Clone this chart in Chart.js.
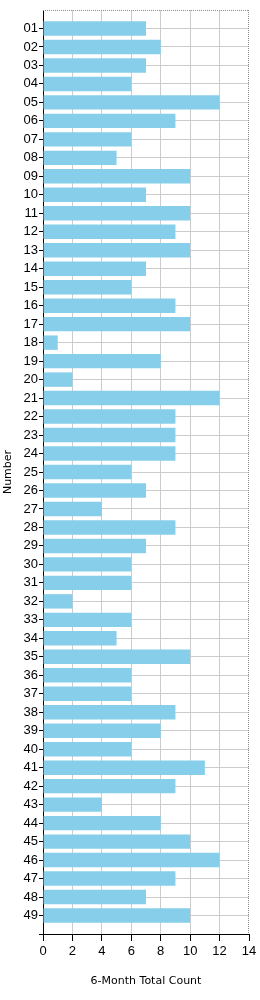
<!DOCTYPE html>
<html>
<head>
<meta charset="utf-8">
<script src="https://cdn.jsdelivr.net/npm/chart.js@4/dist/chart.umd.min.js"></script>
<style>
html,body{margin:0;padding:0;background:#fff;}
#wrap{position:relative;width:260px;height:1000px;}
</style>
</head>
<body>
<div id="wrap"><canvas id="c" width="260" height="1000"></canvas></div>
<script>
const categories = ['01','02','03','04','05','06','07','08','09','10',
  '11','12','13','14','15','16','17','18','19','20',
  '21','22','23','24','25','26','27','28','29','30',
  '31','32','33','34','35','36','37','38','39','40',
  '41','42','43','44','45','46','47','48','49'];
const counts = [7,8,7,6,12,9,6,5,10,7,
  10,9,10,7,6,9,10,1,8,2,
  12,9,9,9,6,7,4,9,7,6,
  6,2,6,5,10,6,6,9,8,6,
  11,9,4,8,10,12,9,7,10];
const xTicks = [0,2,4,6,8,10,12,14];
const xTitle = '6-Month Total Count';
const yTitle = 'Number';

// pad with empty slots at both ends so the axis spans one full category beyond the first/last bar
const labels = [''].concat(categories, ['']);
const values = [null].concat(counts, [null]);
const lastIdx = labels.length - 1;

const frame = {
  id: 'frame',
  afterDatasetsDraw(chart) {
    const {ctx, chartArea: a} = chart;
    ctx.save();
    ctx.strokeStyle = '#8c8c8c';
    ctx.lineWidth = 1;
    ctx.setLineDash([1, 1]);
    ctx.beginPath();
    ctx.moveTo(a.left, a.top + 0.5);
    ctx.lineTo(a.right, a.top + 0.5);
    ctx.moveTo(a.right - 0.5, a.top);
    ctx.lineTo(a.right - 0.5, a.bottom);
    ctx.stroke();
    ctx.restore();
  }
};

new Chart(document.getElementById('c'), {
  type: 'bar',
  data: {
    labels: labels,
    datasets: [{
      data: values,
      backgroundColor: '#87CEEB',
      borderWidth: 0,
      categoryPercentage: 1,
      barPercentage: 0.78
    }]
  },
  plugins: [frame],
  options: {
    indexAxis: 'y',
    responsive: false,
    animation: false,
    devicePixelRatio: 1,
    layout: { padding: { top: 10, right: 11, left: 0, bottom: 0 } },
    plugins: { legend: { display: false }, tooltip: { enabled: false } },
    scales: {
      x: {
        type: 'linear',
        min: 0,
        max: 14,
        afterBuildTicks(scale) { scale.ticks = xTicks.map(v => ({ value: v })); },
        afterFit(scale) { scale.height = 66; },
        grid: {
          color: ctx => (ctx.tick && ctx.tick.value === 14) ? 'rgba(0,0,0,0)' : '#cccccc',
          tickColor: '#000',
          tickLength: 7,
          lineWidth: 1
        },
        border: { color: '#000', width: 1 },
        ticks: {
          padding: 3,
          color: '#000',
          font: { family: 'Liberation Sans, Arial, sans-serif', size: 13 },
          maxRotation: 0
        },
        title: {
          display: true,
          text: xTitle,
          color: '#000',
          font: { family: 'DejaVu Sans, Verdana, sans-serif', size: 11 },
          padding: { top: 0, bottom: 12 }
        }
      },
      y: {
        type: 'category',
        offset: false,
        afterFit(scale) { scale.width = 43; },
        grid: {
          offset: false,
          color: ctx => (ctx.index === 0 || ctx.index === lastIdx) ? 'rgba(0,0,0,0)' : '#cccccc',
          tickColor: ctx => (ctx.index === 0) ? 'rgba(0,0,0,0)' : '#000',
          tickLength: 4,
          lineWidth: 1
        },
        border: { color: '#000', width: 1 },
        ticks: {
          autoSkip: false,
          padding: 1,
          color: '#000',
          font: { family: 'Liberation Sans, Arial, sans-serif', size: 13 }
        },
        title: {
          display: true,
          text: yTitle,
          color: '#000',
          font: { family: 'DejaVu Sans, Verdana, sans-serif', size: 11 },
          padding: { top: 2, bottom: 0 }
        }
      }
    }
  }
});
</script>
</body>
</html>
